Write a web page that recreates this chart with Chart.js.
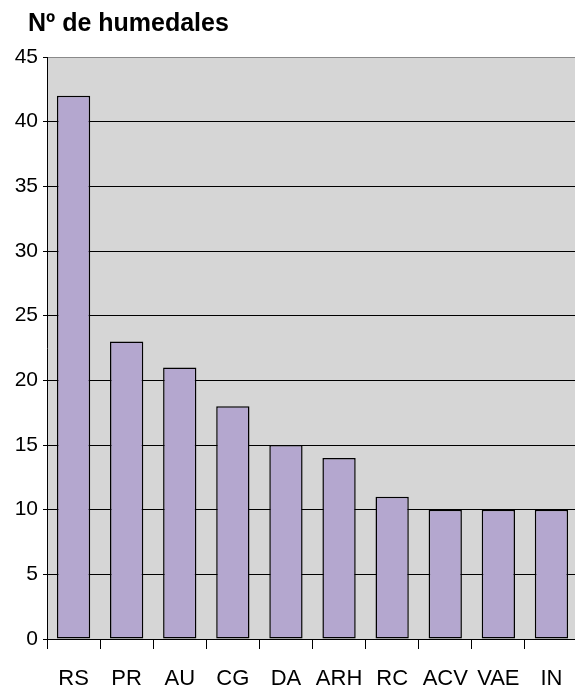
<!DOCTYPE html>
<html>
<head>
<meta charset="utf-8">
<script src="https://cdn.jsdelivr.net/npm/chart.js@4/dist/chart.umd.min.js"></script>
<style>
  html, body { margin: 0; padding: 0; background: #ffffff; overflow: hidden; }
  #wrap { position: relative; width: 580px; height: 690px; }
</style>
</head>
<body>
<div id="wrap"><canvas id="chart"></canvas></div>
<script>
// Wetland counts per category
const categories = ['RS', 'PR', 'AU', 'CG', 'DA', 'ARH', 'RC', 'ACV', 'VAE', 'IN'];
const wetlandCounts = [42, 23, 21, 18, 15, 14, 11, 10, 10, 10];
const axisMin = 0;
const axisMax = 45;
const axisStep = 5;
const chartTitle = 'Nº de humedales';

const FONT = "'Liberation Sans', Arial, sans-serif";

// Grey plot-area background
const plotBackground = {
  id: 'plotBackground',
  beforeDraw(chart) {
    const { ctx, chartArea: a } = chart;
    ctx.save();
    ctx.fillStyle = '#d6d6d6';
    ctx.fillRect(a.left, a.top, a.right - a.left, a.bottom - a.top);
    ctx.restore();
  }
};

// Axis caption in the top-left corner, above the value axis
const axisCaption = {
  id: 'axisCaption',
  afterDraw(chart) {
    const ctx = chart.ctx;
    ctx.save();
    ctx.fillStyle = '#000000';
    ctx.font = "bold 25px " + FONT;
    ctx.textAlign = 'left';
    ctx.textBaseline = 'alphabetic';
    ctx.fillText(chartTitle, 28, 31);
    ctx.restore();
  }
};

new Chart(document.getElementById('chart'), {
  type: 'bar',
  data: {
    labels: categories,
    datasets: [{
      data: wetlandCounts,
      backgroundColor: '#b4a7cf',
      borderColor: '#000000',
      borderWidth: 1.5,
      borderSkipped: false,
      categoryPercentage: 1,
      barPercentage: 0.627
    }]
  },
  options: {
    responsive: true,
    maintainAspectRatio: false,
    animation: false,
    layout: { padding: { left: 0, right: 2, top: 57, bottom: 0 } },
    plugins: {
      legend: { display: false },
      tooltip: { enabled: false },
      title: { display: false }
    },
    scales: {
      x: {
        grid: {
          display: true,
          drawOnChartArea: false,
          drawTicks: true,
          tickLength: 10,
          tickColor: '#000000',
          offset: true
        },
        border: { display: true, color: '#000000', width: 1 },
        ticks: {
          color: '#000000',
          font: { family: FONT, size: 22 },
          padding: 17,
          maxRotation: 0,
          autoSkip: false
        },
        afterFit(scale) { scale.height = 51; }
      },
      y: {
        min: axisMin,
        max: axisMax,
        grid: {
          color: (c) => (c.tick && c.tick.value === axisMax ? '#8a8a8a' : '#000000'),
          tickColor: '#000000',
          tickLength: 4,
          lineWidth: 1
        },
        border: { display: true, color: '#000000', width: 1 },
        ticks: {
          stepSize: axisStep,
          color: '#000000',
          font: { family: FONT, size: 21 },
          padding: 5
        },
        afterFit(scale) { scale.width = 47; }
      }
    }
  },
  plugins: [plotBackground, axisCaption]
});
</script>
</body>
</html>
